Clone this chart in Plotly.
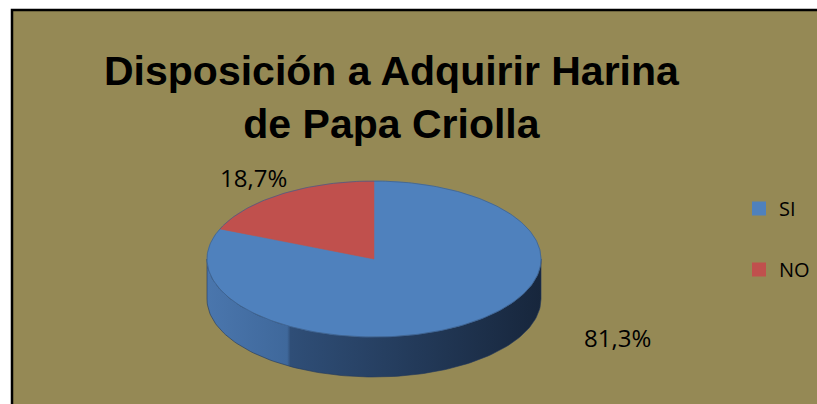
import numpy as np
import plotly.graph_objects as go

# Survey answers and their shares (percent)
categories = ["SI", "NO"]
shares = [81.3, 18.7]
share_labels = ["81,3%", "18,7%"]
colors = ["#4F81BD", "#C0504D"]

title_text = "Disposición a Adquirir Harina<br>de Papa Criolla"

# Ellipse geometry for the tilted pie (pixel units; y grows downward)
CX, CY = 374, 259
RA, RB = 167, 78
DEPTH = 40
W, H = 817, 404


def rim(theta_deg):
    t = np.radians(theta_deg)
    return CX + RA * np.cos(t), CY - RB * np.sin(t)


fig = go.Figure()

# Slice angles: start at 12 o'clock and run clockwise
total = sum(shares)
bounds = []
start = 90.0
for v in shares:
    end = start - 360.0 * v / total
    bounds.append((start, end))
    start = end

# Visible side wall (front half of the disc) for each slice
for (a0, a1), col in zip(bounds, colors):
    lo, hi = min(a0, a1), max(a0, a1)
    segs = []
    for shift in (-360, 0, 360):
        s_lo = max(lo, 180 + shift)
        s_hi = min(hi, 360 + shift)
        if s_hi > s_lo:
            segs.append((s_lo, s_hi))
    for s_lo, s_hi in segs:
        th = np.linspace(s_lo, s_hi, 120)
        x, y = rim(th)
        xs = np.concatenate([x, x[::-1], x[:1]])
        ys = np.concatenate([y, y[::-1] + DEPTH, y[:1]])
        dark = col == colors[0]
        fig.add_trace(go.Scatter(
            x=xs, y=ys, mode="lines", fill="toself",
            line=dict(color="#22385a" if dark else "#7a302e", width=0.6),
            fillgradient=dict(
                type="horizontal",
                colorscale=[[0, "#4a76ad"], [0.24, "#3f689b"], [0.25, "#2f4e77"], [1, "#17263c"]]
                if dark else
                [[0, "#a84541"], [1, "#6a2725"]],
            ),
            hoverinfo="skip", showlegend=False,
        ))

# Top face wedges
for (a0, a1), col, name in zip(bounds, colors, categories):
    th = np.linspace(a0, a1, 240)
    x, y = rim(th)
    xs = np.concatenate([[CX], x, [CX]])
    ys = np.concatenate([[CY], y, [CY]])
    fig.add_trace(go.Scatter(
        x=xs, y=ys, mode="lines", fill="toself", fillcolor=col,
        line=dict(color=col, width=0.5),
        hoverinfo="skip", showlegend=False,
    ))

# Thin outline around the top face
th = np.linspace(0, 360, 361)
x, y = rim(th)
fig.add_trace(go.Scatter(x=x, y=y, mode="lines",
                         line=dict(color="#3b5f8c", width=0.7),
                         hoverinfo="skip", showlegend=False))

# Legend entries
for name, col in zip(categories, colors):
    fig.add_trace(go.Scatter(
        x=[None], y=[None], mode="markers", name=name, legendgroup=name,
        marker=dict(symbol="square", size=14, color=col),
    ))

# Percentage labels placed outside their slices
label_pos = {"SI": (617, 337), "NO": (253, 177)}
for name, txt in zip(categories, share_labels):
    lx, ly = label_pos[name]
    fig.add_annotation(x=lx, y=ly, text=txt, showarrow=False,
                       font=dict(family="Open Sans, Liberation Sans, sans-serif", size=24, color="black"),
                       xanchor="center", yanchor="middle")

fig.add_annotation(x=392, y=97, text="<b>" + title_text + "</b>", showarrow=False,
                   font=dict(family="Liberation Sans, Arial, sans-serif",
                             size=41, color="black"),
                   xanchor="center", yanchor="middle")

# Chart area frame
fig.add_shape(type="rect", xref="paper", yref="paper",
              x0=12 / W, x1=1.05, y0=-0.05, y1=1 - 10 / H,
              fillcolor="#958955", line=dict(color="black", width=2.5), layer="below")

fig.update_layout(
    width=W, height=H,
    margin=dict(l=0, r=0, t=0, b=0),
    paper_bgcolor="white", plot_bgcolor="rgba(0,0,0,0)",
    xaxis=dict(range=[0, W], visible=False, fixedrange=True),
    yaxis=dict(range=[H, 0], visible=False, fixedrange=True),
    legend=dict(x=739 / W, y=1 - 189 / H, xanchor="left", yanchor="top",
                bgcolor="rgba(0,0,0,0)", tracegroupgap=32, traceorder="grouped",
                font=dict(family="Open Sans, Liberation Sans, sans-serif", size=20, color="black"),
                itemwidth=30),
    showlegend=True,
)

fig.write_html("out.html")
